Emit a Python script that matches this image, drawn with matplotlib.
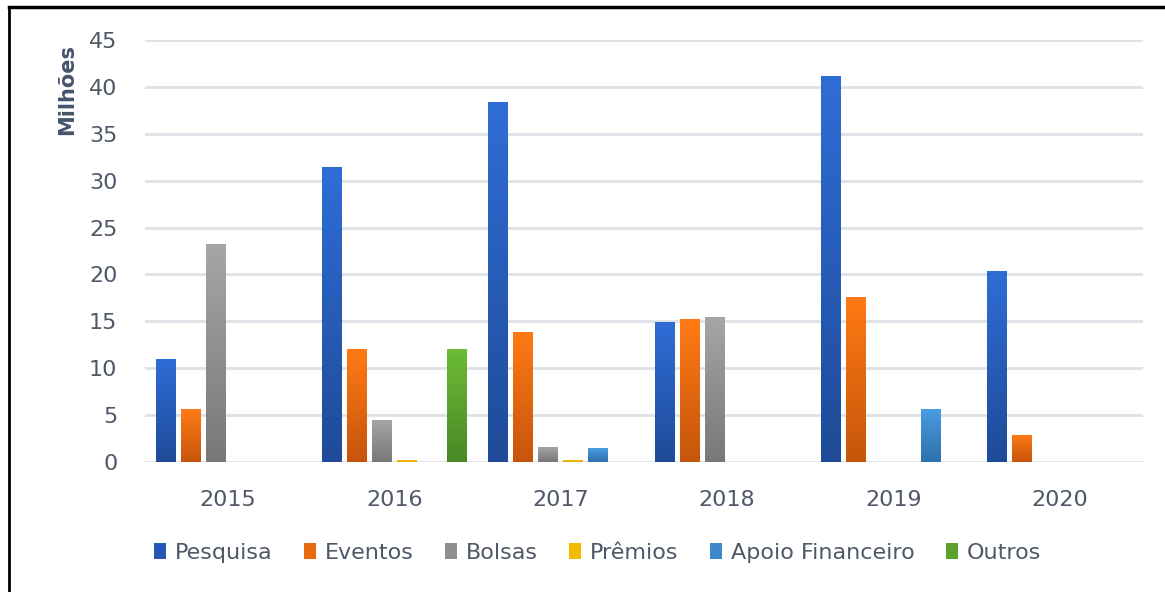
import numpy as np
import matplotlib.pyplot as plt
from matplotlib.colors import LinearSegmentedColormap
from matplotlib.patches import Patch
from matplotlib.lines import Line2D

# dados (milhões)
anos = ['2015', '2016', '2017', '2018', '2019', '2020']
series = ['Pesquisa', 'Eventos', 'Bolsas', 'Prêmios', 'Apoio Financeiro', 'Outros']
pesquisa = [11.0, 31.5, 38.4, 14.9, 41.2, 20.4]
eventos = [5.6, 12.0, 13.9, 15.2, 17.6, 2.9]
bolsas = [23.3, 4.5, 1.6, 15.5, 0, 0]
premios = [0, 0.25, 0.25, 0, 0, 0]
apoio = [0, 0, 1.45, 0, 5.6, 0]
outros = [0, 12.0, 0, 0, 0, 0]
valores = [pesquisa, eventos, bolsas, premios, apoio, outros]

# cores (topo, base) do gradiente
cores = [('#2F6DD6', '#1F4B98'),
         ('#FF7A14', '#C6550C'),
         ('#A6A6A6', '#787878'),
         ('#FFC80A', '#E0A800'),
         ('#4A9CE2', '#2E70AC'),
         ('#6DBB36', '#4A8826')]
cores_leg = ['#2758B8', '#E86A10', '#8F8F8F', '#F2BA00', '#3F88CC', '#5CA22E']

cor_texto = '#4F5868'
cor_grade = '#DDE1E7'

plt.rcParams['font.family'] = ['DejaVu Sans']

fig = plt.figure(figsize=(11.65, 5.92), dpi=100)
ax = fig.add_axes([0.1245, 0.2196, 0.8565, 0.7128])

x = np.arange(len(anos))
passo = 0.15
larg = 0.12
grad = np.linspace(1, 0, 100).reshape(-1, 1)

for i, (vals, (c1, c2)) in enumerate(zip(valores, cores)):
    cmap = LinearSegmentedColormap.from_list('g%d' % i, [c2, c1])
    pos = x + (i - 2.5) * passo
    barras = ax.bar(pos, vals, width=larg, color=c1, zorder=2)
    for b, v in zip(barras, vals):
        if v <= 0:
            continue
        x0 = b.get_x()
        im = ax.imshow(grad, extent=[x0, x0 + larg, 0, v], aspect='auto',
                       cmap=cmap, vmin=0, vmax=1, zorder=3, origin='upper')
        im.set_clip_path(b)

ax.set_xlim(-0.5, 5.5)
ax.set_ylim(0, 45)
ax.set_yticks(np.arange(0, 46, 5))
ax.set_xticks(x)
ax.set_xticklabels(anos)
ax.tick_params(axis='both', length=0, labelsize=16, labelcolor=cor_texto)
ax.tick_params(axis='y', pad=20)
ax.tick_params(axis='x', pad=20)
ax.grid(axis='y', color=cor_grade, linewidth=2, zorder=0)
ax.set_axisbelow(True)
for s in ax.spines.values():
    s.set_visible(False)

fig.text(0.058, 0.848, 'Milhões', rotation=90, ha='center', va='center',
         fontsize=15, fontweight='bold', color='#44546A')

# legenda
handles = [Patch(facecolor=c, edgecolor='none') for c in cores_leg]
fig.legend(handles, series, loc='center', bbox_to_anchor=(0.513, 0.066),
           ncol=6, frameon=False, fontsize=16, labelcolor=cor_texto,
           handlelength=0.55, handleheight=0.7, handletextpad=0.4,
           columnspacing=1.4)

# moldura
fig.add_artist(Line2D([0.0077, 1.0], [0.989, 0.989], color='black', linewidth=2.5,
                      transform=fig.transFigure))
fig.add_artist(Line2D([0.0077, 0.0077], [0.989, 0.0], color='black', linewidth=2.0,
                      transform=fig.transFigure))

fig.savefig('out.png', dpi=100)
